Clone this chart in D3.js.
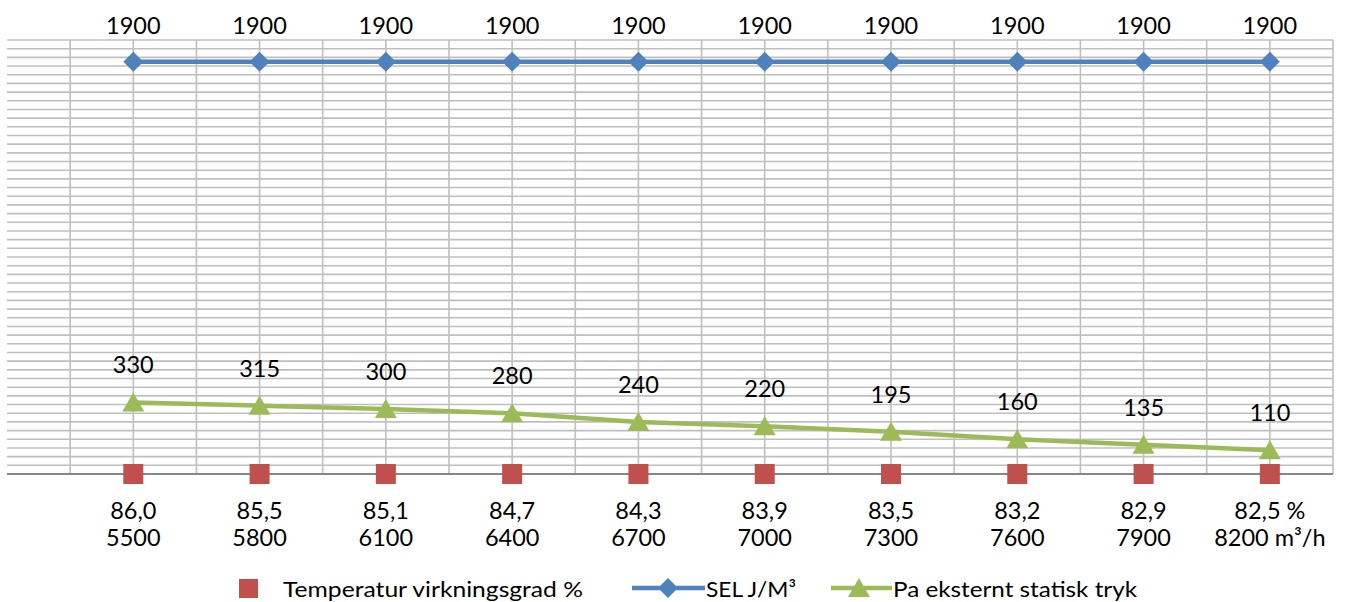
<!DOCTYPE html>
<html>
<head>
<meta charset="utf-8">
<script src="https://cdn.jsdelivr.net/npm/d3@7"></script>
<style>
  html, body { margin: 0; padding: 0; background: #fff; }
  svg { display: block; font-family: Lato, "Open Sans", sans-serif; }
</style>
</head>
<body>
<svg id="chart" width="1345" height="602"></svg>
<script>
// Airflow steps (m³/h) and the efficiency shown under each step
const airflow = ["5500", "5800", "6100", "6400", "6700", "7000", "7300", "7600", "7900", "8200"];
const efficiency = ["86,0", "85,5", "85,1", "84,7", "84,3", "83,9", "83,5", "83,2", "82,9", "82,5"];
// SEL J/m³ per step
const sel = [1900, 1900, 1900, 1900, 1900, 1900, 1900, 1900, 1900, 1900];
// External static pressure (Pa) per step
const pressure = [330, 315, 300, 280, 240, 220, 195, 160, 135, 110];
// Temperature efficiency markers sit on the baseline
const tempMarker = [0, 0, 0, 0, 0, 0, 0, 0, 0, 0];
const yTicks = d3.range(0, 2001, 40);

const colors = { temp: "#C0504D", sel: "#4F81BD", pa: "#9BBB59" };
const svg = d3.select("#chart");

const plot = { left: 7, right: 1333, top: 40, bottom: 474 };
const x = d3.scaleLinear().domain([-1, 9.5]).range([plot.left, plot.right]);
const y = d3.scaleLinear().domain([0, 2000]).range([plot.bottom, plot.top]);
const idx = d3.range(airflow.length);

// Horizontal gridlines
svg.append("g").selectAll("line").data(yTicks.filter(d => d > 0)).join("line")
  .attr("x1", plot.left).attr("x2", plot.right)
  .attr("y1", d => y(d)).attr("y2", d => y(d))
  .attr("stroke", "#BFBFBF").attr("stroke-width", 1.6);

// Vertical gridlines at categories and between them
svg.append("g").selectAll("line").data(d3.range(-0.5, 9.51, 0.5)).join("line")
  .attr("x1", d => x(d)).attr("x2", d => x(d))
  .attr("y1", plot.top).attr("y2", plot.bottom)
  .attr("stroke", "#BFBFBF").attr("stroke-width", 1.6);

// Category axis line
svg.append("line")
  .attr("x1", plot.left).attr("x2", plot.right)
  .attr("y1", y(0)).attr("y2", y(0))
  .attr("stroke", "#868686").attr("stroke-width", 2);

// SEL line + diamonds
const line = d3.line().x((d, i) => x(i)).y(d => y(d));
svg.append("path").datum(sel).attr("d", line)
  .attr("fill", "none").attr("stroke", colors.sel).attr("stroke-width", 4.5);
svg.append("g").selectAll("path").data(sel).join("path")
  .attr("d", d3.symbol(d3.symbolSquare, 200))
  .attr("transform", (d, i) => `translate(${x(i)},${y(d)}) rotate(45)`)
  .attr("fill", colors.sel);

// Pressure line + triangles
svg.append("path").datum(pressure).attr("d", line)
  .attr("fill", "none").attr("stroke", colors.pa).attr("stroke-width", 4.5);
const tri = "M0,-10L11,9L-11,9Z";
svg.append("g").selectAll("path").data(pressure).join("path")
  .attr("d", tri)
  .attr("transform", (d, i) => `translate(${x(i)},${y(d)})`)
  .attr("fill", colors.pa);

// Temperature efficiency squares
svg.append("g").selectAll("rect").data(tempMarker).join("rect")
  .attr("x", (d, i) => x(i) - 10).attr("y", d => y(d) - 10)
  .attr("width", 20).attr("height", 20)
  .attr("fill", colors.temp);

// Data labels
const labelStyle = s => s.attr("font-size", 23.5).attr("fill", "#000").attr("text-anchor", "middle");
svg.append("g").selectAll("text").data(sel).join("text")
  .attr("x", (d, i) => x(i)).attr("y", d => y(d) - 28)
  .text(d => d).call(labelStyle);
svg.append("g").selectAll("text").data(pressure).join("text")
  .attr("x", (d, i) => x(i)).attr("y", d => y(d) - 29)
  .text(d => d).call(labelStyle);

// Two-line category labels
const last = airflow.length - 1;
const cat = svg.append("g").selectAll("text").data(idx).join("text")
  .attr("x", i => x(i)).call(labelStyle);
cat.append("tspan").attr("x", i => x(i)).attr("y", 519)
  .text(i => efficiency[i] + (i === last ? " %" : ""));
cat.append("tspan").attr("x", i => x(i)).attr("y", 546)
  .text(i => airflow[i] + (i === last ? " m³/h" : ""));

// Legend
const lg = svg.append("g").attr("font-size", 22);
lg.append("rect").attr("x", 239).attr("y", 579).attr("width", 19).attr("height", 19).attr("fill", colors.temp);
lg.append("text").attr("x", 283).attr("y", 597).text("Temperatur virkningsgrad %")
  .attr("textLength", 300).attr("lengthAdjust", "spacingAndGlyphs");

lg.append("line").attr("x1", 632).attr("x2", 705).attr("y1", 588).attr("y2", 588)
  .attr("stroke", colors.sel).attr("stroke-width", 4.5);
lg.append("path").attr("d", d3.symbol(d3.symbolSquare, 200))
  .attr("transform", "translate(668,588) rotate(45)").attr("fill", colors.sel);
lg.append("text").attr("x", 706).attr("y", 597).text("SEL J/M³")
  .attr("textLength", 90).attr("lengthAdjust", "spacingAndGlyphs");

lg.append("line").attr("x1", 831).attr("x2", 892).attr("y1", 588).attr("y2", 588)
  .attr("stroke", colors.pa).attr("stroke-width", 4.5);
lg.append("path").attr("d", tri).attr("transform", "translate(859,588)").attr("fill", colors.pa);
lg.append("text").attr("x", 893).attr("y", 597).text("Pa eksternt statisk tryk")
  .attr("textLength", 244).attr("lengthAdjust", "spacingAndGlyphs");
</script>
</body>
</html>
